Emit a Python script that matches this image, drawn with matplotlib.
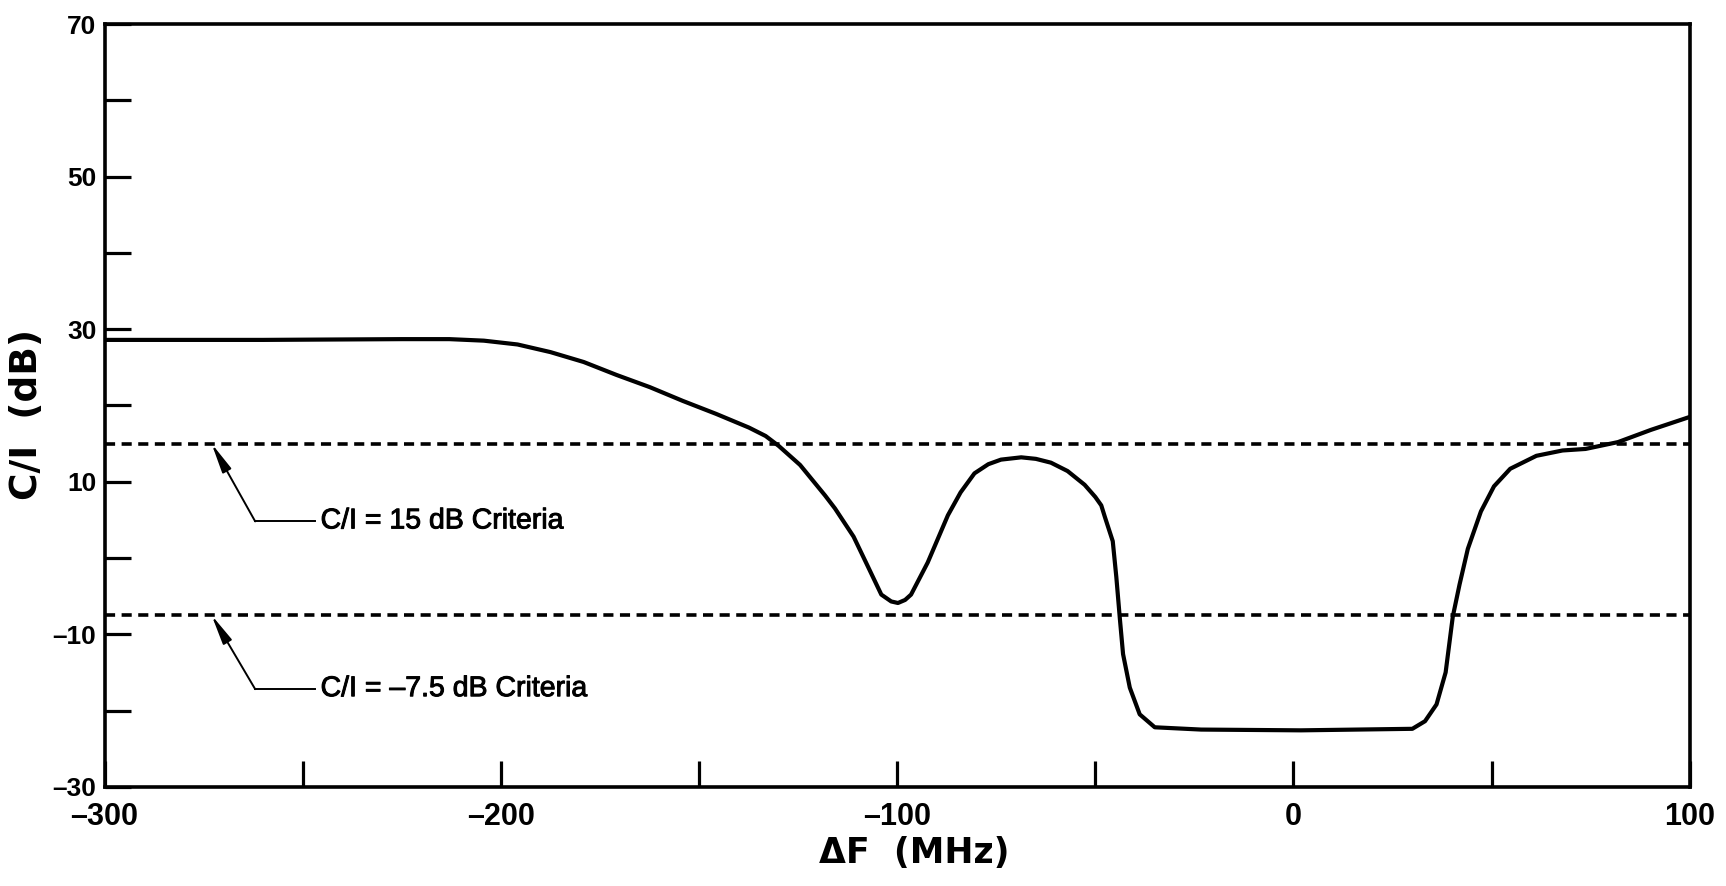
import matplotlib
matplotlib.use("Agg")
import matplotlib.pyplot as plt
import matplotlib.patheffects as pe
from matplotlib.ticker import FixedLocator, FuncFormatter

# C/I versus frequency offset
freq_mhz = [-300, -260, -225, -213, -204.3, -195.8, -187.5, -179.1, -170.8,
            -162.4, -154.1, -145.7, -137.4, -133.2, -129.9, -124.5, -118.2,
            -115.7, -111, -107.4, -104.0, -101.5, -99.8, -98, -96.5, -92.3,
            -87.2, -84, -80.5, -77, -73.8, -68.7, -65, -61.2, -57, -52.7,
            -50, -48.5, -47.6, -45.6, -44.7, -43.8, -43.0, -41.3, -38.8,
            -35.0, -23.3, 1.9, 30.0, 33.2, 36.1, 38.4, 40.2, 41.9, 44.0,
            47.3, 50.6, 54.7, 61.3, 67.9, 73.7, 81.9, 90.2, 100]
ci_db = [28.6, 28.6, 28.7, 28.7, 28.5, 28.0, 27.0, 25.7, 24.0,
         22.4, 20.6, 18.9, 17.1, 16.0, 14.7, 12.2, 8.2,
         6.5, 2.8, -1.1, -4.8, -5.7, -5.9, -5.5, -4.8, -0.6,
         5.6, 8.6, 11.1, 12.3, 12.9, 13.2, 13.0, 12.5, 11.4, 9.6,
         8.0, 6.9, 5.4, 2.2, -2.5, -8.0, -12.6, -17.0, -20.5,
         -22.2, -22.5, -22.6, -22.4, -21.4, -19.2, -15.0, -7.7, -3.5, 1.2,
         6.1, 9.4, 11.7, 13.4, 14.1, 14.3, 15.2, 16.8, 18.5]

criteria_db = [15, -7.5]
criteria_labels = ["C/I = 15 dB Criteria", "C/I = \u20137.5 dB Criteria"]
arrow_tip_x = -273
elbow_x = -262
text_x = -245.5
text_y = [4.8, -17.2]

x_major = [-300, -200, -100, 0, 100]
x_minor = [-250, -150, -50, 50]
y_ticks = list(range(-30, 71, 10))
y_labelled = [70, 50, 30, 10, -10, -30]

plt.rcParams["font.family"] = ["Liberation Sans", "DejaVu Sans"]

fig = plt.figure(figsize=(17.26, 8.86), dpi=100)
ax = fig.add_axes([0.0606, 0.112, 0.9184, 0.8607])

ax.plot(freq_mhz, ci_db, color="black", lw=3.0, solid_capstyle="round",
        solid_joinstyle="round")

for c in criteria_db:
    ax.axhline(c, color="black", lw=2.6, ls=(0, (2.8, 1.8)))

for c, lab, ty in zip(criteria_db, criteria_labels, text_y):
    ax.plot([elbow_x, text_x - 1.5], [ty, ty], color="black", lw=1.4)
    ax.annotate("", xy=(arrow_tip_x, c), xytext=(elbow_x, ty),
                arrowprops=dict(arrowstyle="-|>,head_length=1.8,head_width=0.3",
                                color="black", lw=1.4, shrinkA=0, shrinkB=0))
    ax.text(text_x, ty, lab, fontsize=20.5, va="center", ha="left",
            path_effects=[pe.withStroke(linewidth=0.7, foreground="black")])

ax.set_xlim(-300, 100)
ax.set_ylim(-30, 70)

ax.xaxis.set_major_locator(FixedLocator(x_major))
ax.xaxis.set_minor_locator(FixedLocator(x_minor))
ax.yaxis.set_major_locator(FixedLocator(y_ticks))
ax.yaxis.set_major_formatter(FuncFormatter(
    lambda v, p: (f"{int(round(v))}".replace("-", "\u2013")
                  if int(round(v)) in y_labelled else "")))
ax.xaxis.set_major_formatter(FuncFormatter(
    lambda v, p: f"{int(round(v))}".replace("-", "\u2013")))

ax.tick_params(axis="both", which="both", direction="in", length=19, width=2.3,
               color="black")
ax.tick_params(axis="x", which="major", pad=11, labelsize=22)
ax.tick_params(axis="y", which="major", pad=6, labelsize=19)
for lab in ax.get_yticklabels() + ax.get_xticklabels():
    lab.set_fontweight("bold")

for s in ax.spines.values():
    s.set_linewidth(2.6)

ax.set_ylabel("C/I  (dB)", fontsize=27, fontweight="bold", family="DejaVu Sans")
ax.yaxis.set_label_coords(-0.0376, 0.4876)
ax.set_xlabel("\u0394F  (MHz)", fontsize=25, fontweight="bold", family="DejaVu Sans")
ax.xaxis.set_label_coords(0.511, -0.0645)

fig.savefig("out.png", dpi=100)
